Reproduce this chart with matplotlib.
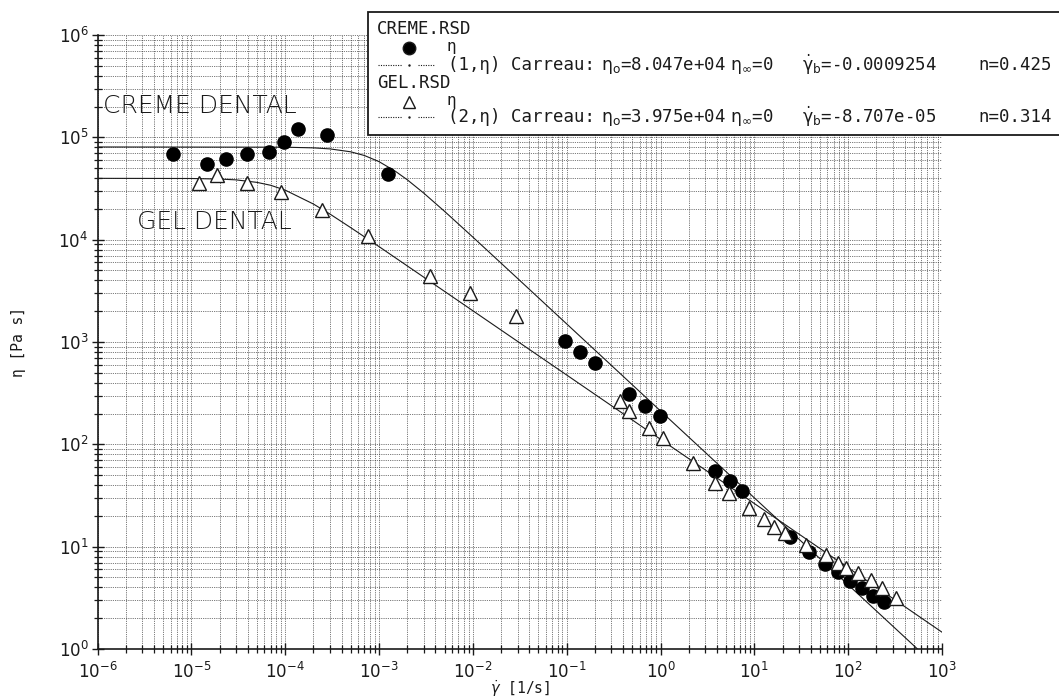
import matplotlib
matplotlib.use("Agg")
import matplotlib.pyplot as plt
from matplotlib.lines import Line2D
from matplotlib.patches import Rectangle
from matplotlib.ticker import LogLocator
import numpy as np

# measured points, CREME.RSD (filled circles)
creme_rate = [6.4e-6, 1.47e-5, 2.33e-5, 3.88e-5, 6.76e-5, 9.7e-5, 1.36e-4, 2.76e-4,
              1.24e-3, 0.096, 0.14, 0.199, 0.461, 0.678, 0.977,
              3.77, 5.44, 7.43, 24.1, 38.0, 57.3, 77.5, 105, 140, 183, 239]
creme_eta = [6.9e4, 5.5e4, 6.1e4, 6.85e4, 7.2e4, 9.1e4, 1.2e5, 1.06e5,
             4.4e4, 1030, 790, 620, 311, 237, 190,
             55.3, 43.9, 35.3, 12.4, 8.8, 6.7, 5.6, 4.6, 3.97, 3.3, 2.9]

# measured points, GEL.RSD (open triangles)
gel_rate = [1.21e-5, 1.86e-5, 3.88e-5, 9.0e-5, 2.44e-4, 7.66e-4,
            3.48e-3, 9.42e-3, 2.86e-2, 0.366, 0.461, 0.752, 1.06,
            2.2, 3.77, 5.35, 8.73, 12.8, 16.4, 21.0, 35.7, 58.3, 77.5,
            95.3, 126, 176, 230, 324]
gel_eta = [3.57e4, 4.3e4, 3.61e4, 2.95e4, 1.95e4, 1.09e4,
           4430, 3000, 1810, 267, 213, 146, 115,
           65.8, 41.7, 33.3, 23.7, 18.5, 15.7, 13.5, 10.4, 8.3, 6.9,
           6.24, 5.5, 4.72, 3.97, 3.13]

# Carreau fit curves
creme_fit_rate = [1e-6, 1e-4, 2e-4, 3e-4, 5e-4, 7e-4, 1e-3, 1.5e-3, 2e-3, 3e-3,
                  5e-3, 1e-2, 3e-2, 0.1, 1, 10, 100, 1000]
creme_fit_eta = [8.05e4, 8.01e4, 7.89e4, 7.71e4, 7.22e4, 6.64e4, 5.79e4, 4.65e4,
                 3.85e4, 2.85e4, 1.89e4, 1.06e4, 4180, 1503, 212, 30.0, 4.24, 0.6]
gel_fit_rate = [1e-6, 1e-5, 2e-5, 3e-5, 5e-5, 7e-5, 1e-4, 2e-4, 3e-4, 5e-4,
                1e-3, 3e-3, 1e-2, 0.1, 1, 10, 100, 1000]
gel_fit_eta = [3.975e4, 3.96e4, 3.91e4, 3.84e4, 3.63e4, 3.40e4, 3.05e4, 2.23e4,
               1.78e4, 1.31e4, 8560, 4300, 2021, 476, 112, 26.4, 6.22, 1.46]

x_decades = [1e-6, 1e-5, 1e-4, 1e-3, 1e-2, 1e-1, 1e0, 1e1, 1e2, 1e3]
y_decades = [1e0, 1e1, 1e2, 1e3, 1e4, 1e5, 1e6]

legend_files = ["CREME.RSD", "GEL.RSD"]
legend_fits = [["(1,η) Carreau:", r"$\mathrm{\eta_o}$=8.047e+04", r"$\mathrm{\eta_\infty}$=0",
                r"$\mathrm{\dot{\gamma}_b}$=-0.0009254", "n=0.425"],
               ["(2,η) Carreau:", r"$\mathrm{\eta_o}$=3.975e+04", r"$\mathrm{\eta_\infty}$=0",
                r"$\mathrm{\dot{\gamma}_b}$=-8.707e-05", "n=0.314"]]

W, H = 1059, 699
INK = "#1a1a1a"
plt.rcParams["mathtext.fontset"] = "dejavusans"


def fx(px):
    return px / W


def fy(py):
    return 1 - py / H


fig = plt.figure(figsize=(W / 100, H / 100), dpi=100)
ax = fig.add_axes([fx(97.5), 50 / H, (942 - 97.5) / W, (649 - 35) / H])
ax.set_xscale("log")
ax.set_yscale("log")
ax.set_xticks(x_decades)
ax.set_yticks(y_decades)
ax.xaxis.set_minor_locator(LogLocator(base=10, subs=np.arange(2, 10), numticks=20))
ax.yaxis.set_minor_locator(LogLocator(base=10, subs=np.arange(2, 10), numticks=20))
ax.set_xlim(1e-6, 1e3)
ax.set_ylim(1, 1e6)

ax.grid(which="both", linestyle=(0, (1, 1.4)), color="#2a2a2a", linewidth=0.55)
for side in ("top", "right"):
    ax.spines[side].set_visible(False)
for side in ("left", "bottom"):
    ax.spines[side].set_linewidth(1.2)
    ax.spines[side].set_color(INK)

ax.tick_params(which="major", direction="inout", length=9, width=1.0, color=INK,
               labelsize=12, labelcolor=INK)
ax.tick_params(axis="x", which="major", pad=5)
ax.tick_params(axis="y", which="major", pad=2)
ax.tick_params(which="minor", direction="inout", length=6, width=0.9, color=INK,
               labelleft=False, labelbottom=False)

# fit lines
ax.plot(creme_fit_rate, creme_fit_eta, color=INK, lw=0.8, zorder=3)
ax.plot(gel_fit_rate, gel_fit_eta, color=INK, lw=0.8, zorder=3)

# data
ax.plot(creme_rate, creme_eta, "o", ms=9.5, color="black", zorder=4)
ax.plot(gel_rate, gel_eta, "^", ms=9.5, mfc="white", mec=INK, mew=1.0, zorder=4)

ax.text(1.15e-6, 2.03e5, "CREME DENTAL", fontsize=18, fontweight="light", color=INK,
        ha="left", va="center", zorder=5)
ax.text(2.63e-6, 1.49e4, "GEL DENTAL", fontsize=18, fontweight="light", color=INK,
        ha="left", va="center", zorder=5)

ax.set_xlabel(r"$\dot{\gamma}$ [1/s]", fontsize=10.5, family="DejaVu Sans Mono",
              color=INK, va="center")
ax.xaxis.set_label_coords(0.5, -(689 - 649) / 614)
ax.set_ylabel("η [Pa s]", fontsize=10.5, family="DejaVu Sans Mono", color=INK,
              va="center")
ax.yaxis.set_label_coords(-(97.5 - 19) / 844.5, 0.5)

# legend box
fig.add_artist(Rectangle((fx(368), fy(135)), fx(1075) - fx(368), (135 - 12) / H,
                         transform=fig.transFigure, facecolor="white",
                         edgecolor=INK, linewidth=1.3, zorder=5))

mono = dict(family="DejaVu Sans Mono", fontsize=12.5, color=INK, va="center", zorder=6)
rows = [(29, 48, 65, "o", "black"), (83, 102, 117, "^", "white")]
text_x = [448, 601, 730, 802, 978]
for (y_file, y_mark, y_fit, mk, fc), name, parts in zip(rows, legend_files, legend_fits):
    fig.text(fx(377), fy(y_file), name, **mono)
    fig.add_artist(Line2D([fx(409)], [fy(y_mark)], marker=mk, ms=9, mfc=fc, mec=INK,
                          mew=1.0, linestyle="none", transform=fig.transFigure, zorder=6))
    fig.text(fx(446), fy(y_mark - 1), "η", **dict(mono, fontsize=11.5))
    for x0, x1 in ((378, 402), (418, 435)):
        fig.add_artist(Line2D([fx(x0), fx(x1)], [fy(y_fit), fy(y_fit)], color=INK,
                              lw=0.8, linestyle=(0, (1, 1.2)),
                              transform=fig.transFigure, zorder=6))
    fig.add_artist(Line2D([fx(409)], [fy(y_fit)], marker=".", ms=1.5, color=INK,
                          transform=fig.transFigure, zorder=6))
    for px, s in zip(text_x, parts):
        fig.text(fx(px), fy(y_fit), s, **mono)

fig.savefig("out.png", dpi=100, facecolor="white")
